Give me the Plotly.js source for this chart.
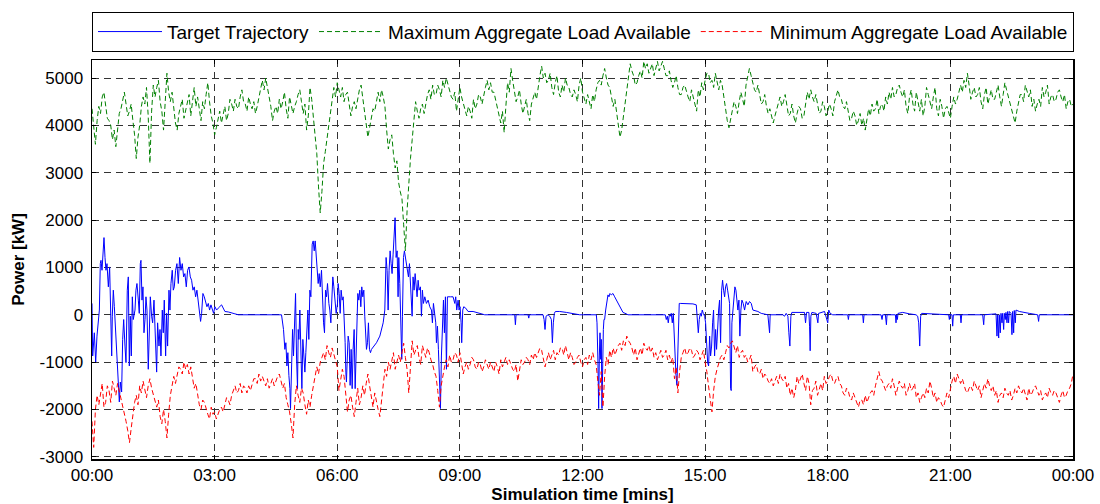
<!DOCTYPE html>
<html>
<head>
<meta charset="utf-8">
<script src="https://cdn.plot.ly/plotly-3.0.1.min.js"></script>
<style>html,body{margin:0;padding:0;background:#fff;}#chart{width:1100px;height:504px;}</style>
</head>
<body>
<div id="chart"></div>
<script>
// ---- tick labels ----
const timeTicks = [0, 180, 360, 540, 720, 900, 1080, 1260, 1440];
const timeLabels = ["00:00", "03:00", "06:00", "09:00", "12:00", "15:00", "18:00", "21:00", "00:00"];
const powerTicks = [-3000, -2000, -1000, 0, 1000, 2000, 3000, 4000, 5000];
const powerLabels = ["-3000", "-2000", "-1000", "0", "1000", "2000", "3000", "4000", "5000"];
const seriesNames = ["Target Trajectory", "Maximum Aggregate Load Available", "Minimum Aggregate Load Available"];

// ---- bounds, sampled every 2.5 simulation minutes ----
const boundStepMin = 2.5;
const maxAvailable = [
  4350,4000,3600,4100,4400,4250,4600,4700,4450,4150,4100,4000,3700,3900,3550,3950,4250,4350,4550,4700,
  4450,4200,4300,4450,4100,3800,3300,3750,4000,4400,4600,4450,4800,4200,3200,4300,4850,4600,4800,4950,
  4500,4300,3900,4600,5100,4700,4500,4700,4300,4050,3900,4250,4400,4550,4150,4300,4500,4650,4200,4450,
  4800,4400,4600,4350,4100,4500,4350,4650,4900,4500,4200,4050,3800,3950,4150,4300,4050,4200,4400,4100,
  4250,4550,4450,4300,4550,4400,4350,4600,4750,4500,4450,4300,4600,4450,4350,4500,4250,4400,4600,4800,
  4950,4750,5000,4800,4600,4400,4100,4300,4400,4250,4550,4350,4500,4700,4350,4150,4600,4450,4250,4400,
  4500,4650,4750,4500,4250,4450,3900,4200,4800,4550,4200,3900,3400,2700,2150,2600,3200,3450,3700,4000,
  4300,4550,4800,4600,4900,4750,4600,4800,4500,4650,4700,4450,4200,4400,4500,4350,4600,4750,4850,4600,
  4300,4050,3750,3950,4150,4350,4300,4550,4700,4500,4750,4600,4400,3900,3500,3700,3800,3400,3100,3250,
  2800,2600,2450,1900,1350,2200,2900,3300,3700,4100,4500,4300,4150,4350,4450,4250,4500,4650,4750,4550,
  4850,4650,4650,4850,4750,4600,4950,4800,5000,4850,4750,4600,4550,4700,4300,4550,4800,4600,4450,4300,
  4200,4400,4300,4150,4550,4350,4450,4650,4600,4450,4650,4800,4950,4750,4900,4700,4700,4550,4400,4200,
  4050,4300,3850,4400,4900,4700,5200,4950,4700,4500,4600,4750,4450,4250,4400,4550,4250,4100,4450,4600,
  4700,4550,4850,5050,5250,5000,5100,4900,4950,5100,4800,4650,4900,5050,4700,4600,4850,4700,5000,4850,
  4800,4650,4600,4750,4650,4500,4850,5000,4700,4550,4450,4650,4500,4350,4650,4500,4750,4900,4950,4850,
  5050,5200,5000,4850,4800,4600,4400,4550,4300,4000,3750,3900,4200,4450,4700,5000,5300,5150,5050,4850,
  4900,5050,5150,5000,5350,5200,5300,5100,5200,5300,5050,5200,5350,5150,5250,5350,5200,5050,5050,5150,
  4950,4800,4900,5050,4800,4650,4650,4800,4850,4700,4600,4500,4750,4600,4450,4300,4750,4600,4900,4750,
  4950,5100,5100,4900,4950,4800,5100,4900,4750,4950,4850,4600,4300,4100,3950,4150,4300,4500,4400,4250,
  4500,4700,4550,4400,4850,5000,5200,5050,4900,4750,4700,4850,4650,4450,4500,4650,4400,4250,4350,4200,
  4050,4200,4350,4500,4600,4400,4500,4650,4400,4200,4250,4450,4200,4050,4250,4400,4350,4150,4200,4450,
  4700,4550,4750,4600,4500,4650,4400,4250,4300,4500,4400,4200,4300,4450,4350,4200,4500,4650,4750,4600,
  4550,4400,4350,4500,4250,4100,4150,4300,4200,4000,4100,4250,4000,4150,3900,4100,4350,4200,4450,4300,
  4350,4550,4250,4400,4450,4300,4600,4450,4700,4550,4800,4600,4650,4800,4850,4700,4600,4750,4400,4250,
  4600,4750,4450,4300,4700,4500,4300,4550,4200,4400,4800,4650,4500,4350,4600,4800,4350,4200,4550,4400,
  4150,4350,4400,4250,4150,4400,4600,4450,4550,4700,4850,4700,4950,4800,5100,4850,4550,4700,4800,4600,
  4650,4800,4500,4350,4650,4800,4450,4600,4750,4550,4550,4700,4850,4600,4400,4650,4900,4750,4600,4450,
  4350,4200,4050,4300,4450,4650,4650,4500,4850,4700,4600,4750,4400,4550,4300,4450,4550,4400,4800,4600,
  4700,4850,4450,4600,4650,4500,4550,4700,4750,4600,4500,4650,4350,4500,4550,4400,4450
];
const minAvailable = [
  -2250,-2800,-2000,-1700,-1900,-1650,-1450,-1950,-1850,-1500,-1600,-1850,-1400,-1550,-1700,-1450,-1600,-1800,-1900,-2050,
  -2250,-2450,-2700,-2400,-2100,-1850,-1700,-1900,-1500,-1650,-1400,-1550,-1750,-1500,-1350,-1550,-1700,-1850,-1950,-1800,
  -2150,-2300,-2000,-2250,-2600,-2100,-1700,-1500,-1300,-1450,-1250,-1100,-1150,-1250,-1000,-1150,-1050,-1250,-1100,-1350,
  -1550,-1450,-1700,-1900,-2000,-1800,-1850,-2000,-2100,-2200,-1950,-2100,-2050,-2200,-2100,-2000,-1950,-2050,-1900,-1750,
  -1800,-1900,-1700,-1600,-1500,-1650,-1600,-1450,-1650,-1500,-1550,-1650,-1500,-1600,-1450,-1350,-1350,-1450,-1250,-1400,
  -1300,-1400,-1500,-1350,-1550,-1450,-1350,-1500,-1400,-1300,-1250,-1400,-1550,-1450,-1750,-1900,-2050,-2300,-2600,-1900,
  -1500,-1700,-1850,-1550,-1650,-1900,-2100,-1800,-1950,-1700,-1500,-1300,-1100,-1250,-1000,-900,-800,-950,-650,-800,
  -900,-700,-850,-1000,-1100,-1600,-1400,-1150,-1300,-1700,-2050,-1800,-1700,-1950,-2150,-1850,-1550,-1900,-1750,-1500,
  -1700,-1450,-1250,-1500,-1750,-1950,-1650,-1850,-2000,-2150,-1800,-1400,-1150,-1300,-1000,-1150,-950,-800,-1150,-1000,
  -850,-1000,-800,-600,-900,-1150,-1650,-1100,-550,-850,-750,-650,-900,-1050,-650,-800,-900,-700,-800,-950,
  -1050,-1200,-1300,-1600,-1950,-1500,-1250,-1100,-950,-1100,-850,-1000,-950,-800,-850,-1000,-800,-1000,-1250,-1100,
  -1000,-1150,-1050,-900,-950,-1100,-1150,-1000,-1050,-1200,-1100,-950,-1050,-1150,-1000,-1100,-1200,-1000,-1100,-1250,
  -950,-1100,-1000,-900,-1050,-950,-1050,-1150,-1200,-1050,-1400,-1150,-950,-1050,-1000,-900,-950,-1050,-850,-950,
  -800,-900,-800,-700,-750,-900,-1100,-950,-800,-950,-850,-750,-950,-800,-850,-700,-700,-850,-650,-800,
  -950,-800,-900,-1050,-1000,-900,-850,-1000,-1100,-950,-900,-1050,-850,-950,-800,-950,-1050,-1400,-1700,-1200,
  -1950,-1300,-900,-1050,-750,-900,-700,-850,-750,-650,-600,-750,-550,-650,-450,-550,-600,-700,-850,-700,
  -950,-800,-700,-850,-600,-700,-750,-650,-800,-700,-900,-800,-950,-850,-750,-900,-850,-750,-950,-850,
  -1000,-900,-1350,-1100,-1650,-1200,-900,-800,-700,-850,-800,-700,-750,-900,-850,-750,-800,-950,-850,-750,
  -1000,-1200,-1500,-1750,-2050,-1600,-1300,-1150,-1000,-900,-850,-950,-800,-650,-700,-600,-550,-700,-800,-650,
  -900,-800,-750,-900,-850,-1000,-950,-850,-1200,-1100,-1050,-1200,-1250,-1150,-1350,-1250,-1300,-1400,-1450,-1350,
  -1500,-1400,-1300,-1450,-1250,-1350,-1400,-1300,-1550,-1450,-1700,-1550,-1750,-1600,-1300,-1450,-1350,-1250,-1450,-1600,
  -1300,-1450,-1900,-1600,-1550,-1400,-1700,-1550,-1450,-1600,-1300,-1450,-1400,-1300,-1250,-1400,-1450,-1350,-1300,-1450,
  -1500,-1650,-1700,-1550,-1600,-1750,-1800,-1650,-1750,-1850,-1950,-1800,-1800,-1900,-1700,-1850,-1750,-1650,-1600,-1700,
  -1500,-1350,-1200,-1350,-1400,-1500,-1600,-1500,-1450,-1550,-1350,-1500,-1700,-1550,-1400,-1500,-1550,-1450,-1700,-1600,
  -1450,-1600,-1550,-1450,-1750,-1650,-1850,-1750,-1650,-1750,-1550,-1650,-1400,-1550,-1750,-1650,-1850,-1750,-1800,-1900,
  -1950,-1800,-1650,-1750,-1550,-1400,-1300,-1450,-1250,-1350,-1450,-1350,-1500,-1600,-1650,-1550,-1500,-1600,-1400,-1500,
  -1600,-1500,-1750,-1600,-1450,-1550,-1350,-1500,-1600,-1500,-1700,-1600,-1850,-1700,-1650,-1750,-1550,-1650,-1700,-1600,
  -1800,-1700,-1550,-1650,-1500,-1600,-1650,-1550,-1700,-1800,-1550,-1700,-1650,-1550,-1500,-1600,-1700,-1600,-1800,-1700,
  -1650,-1750,-1550,-1650,-1700,-1600,-1650,-1750,-1850,-1700,-1600,-1750,-1700,-1600,-1550,-1450,-1250
];

// ---- target trajectory: time [min] and power [kW] ----
const targetTime = [
  0,1.0,3.4,5.4,7.3,9.3,10.8,12.2,13.2,14.7,16.1,17.6,19.1,20.5,22.0,24.0,25.9,27.9,28.9,29.8,
  31.3,32.8,34.7,36.7,38.6,40.1,41.6,43.5,45.0,46.5,48.4,49.9,51.8,53.3,54.8,56.2,57.7,59.2,60.6,63.1,
  64.5,66.0,68.0,69.4,70.9,71.9,73.4,74.8,76.3,77.8,79.2,80.7,82.6,84.1,85.6,87.5,89.0,91.0,92.4,94.9,
  96.3,98.3,99.8,101.2,103.2,104.6,106.1,108.1,109.5,111.0,113.0,114.4,115.9,117.8,119.3,120.8,122.7,124.7,126.7,128.6,
  130.6,132.5,134.5,136.4,138.4,140.3,142.3,144.3,146.2,148.2,150.1,152.1,154.0,156.0,157.9,159.4,160.9,162.8,164.8,166.7,
  168.7,170.7,172.6,174.6,176.5,178.5,180.4,182.9,185.3,190.2,195.1,200.0,209.8,214.7,278.2,279.6,281.1,283.1,284.6,286.1,
  287.5,289.0,290.5,291.4,292.9,294.4,295.8,297.3,298.8,300.2,301.7,302.7,303.7,305.1,306.6,308.1,309.5,311.0,312.5,313.9,
  315.4,316.9,318.3,319.8,321.3,323.2,324.7,326.2,327.6,329.1,330.6,332.0,333.5,335.0,336.9,338.4,339.9,341.3,342.8,344.3,
  345.7,347.7,349.1,350.6,352.1,353.5,355.0,356.5,358.4,360.4,
  361.3,362.8,364.3,365.7,367.2,368.7,370.1,371.6,372.6,373.5,374.5,376.0,377.5,378.9,380.4,381.9,383.3,384.8,386.3,387.2,
  388.7,390.2,391.6,393.1,394.6,396.0,397.5,399.0,400.4,401.9,402.9,404.4,405.8,407.3,408.8,410.2,412.7,417.6,422.5,427.4,
  429.8,430.8,431.7,433.2,434.7,436.1,437.6,439.1,440.5,442.0,443.5,444.9,446.4,447.9,449.3,450.3,451.8,453.3,454.7,455.7,
  457.2,458.6,460.1,461.6,463.1,464.5,466.0,467.4,468.9,469.9,471.3,472.8,474.3,475.7,477.2,478.7,480.1,482.1,483.6,485.0,
  486.5,488.5,490.9,493.4,495.8,498.3,499.7,501.2,503.1,504.6,505.6,507.1,508.5,510.0,511.5,512.9,514.4,515.9,517.3,518.8,
  520.3,521.7,526.1,530.0,532.5,533.9,535.4,537.4,538.8,540.3,541.8,542.7,544.2,545.7,548.6,552.0,559.4,569.1,576.5,620.5,
  621.5,622.5,640.1,641.1,642.0,662.1,663.6,665.0,666.5,669.4,671.9,674.3,675.8,677.2,678.7,680.2,686.5,696.3,706.1,715.9,
  740.3,741.3,742.7,743.7,744.7,745.7,746.7,747.6,748.6,749.6,750.6,751.5,752.5,754.0,755.5,756.4,757.4,758.9,760.3,762.3,
  764.7,767.2,769.6,772.1,774.5,777.0,779.4,784.3,786.7,841.5,843.0,844.5,845.9,847.4,848.9,850.3,851.8,853.3,854.2,855.7,
  857.2,858.6,860.1,861.1,862.0,863.5,874.8,882.1,887.0,888.5,890.0,891.4,892.9,894.4,895.8,897.3,899.3,900.7,902.2,903.7,
  905.1,906.6,908.0,909.5,911.0,912.4,913.9,915.4,916.8,918.3,919.8,921.2,922.7,924.2,925.6,927.1,928.6,930.0,931.5,933.0,
  934.4,935.9,937.4,938.3,939.3,940.8,942.2,943.7,945.2,946.6,948.1,949.6,951.0,952.5,954.0,955.9,957.9,960.3,962.8,965.2,
  967.7,970.1,972.6,977.5,982.3,987.2,992.1,994.6,995.5,1014.1,1016.6,1019.0,1021.5,1022.9,1024.4,1025.9,1027.3,1045.9,1047.4,1048.9,
  1052.3,1053.3,1054.2,1055.2,1056.7,1063.0,1065.5,1066.5,1075.3,
  1080,1081.5,1083.4,1087.3,1109.3,1110.3,1111.3,1131.3,1132.3,1133.3,1158.2,1159.7,1160.7,1164.6,1166.1,1167.0,1179.3,1180.2,1181.2,1182.2,
  1183.2,1190.0,1199.8,1209.6,1212.0,1213.5,1215.0,1216.4,1217.9,1229.1,1257.5,1258.5,1259.5,1262.4,1263.4,1264.4,1274.6,1275.6,1276.6,1307.4,
  1308.9,1309.8,1327.0,1328.4,1329.4,1330.9,1331.8,1333.3,1334.3,1335.8,1336.7,1338.2,1339.2,1340.6,1341.6,1343.1,1344.1,1345.5,1346.5,1349.0,
  1350.4,1351.4,1352.9,1353.8,1355.3,1356.3,1361.2,1375.8,1388.1,1389.5,1390.5,1440
];
const targetPower = [
  240,-870,-380,-1000,-450,-170,100,1080,1150,940,1210,1630,1210,940,1080,590,1010,-590,-870,-30,
  520,170,-310,-870,-1560,-1840,-1420,-1630,-520,-100,-660,-1010,520,800,-1080,-30,-870,380,-100,100,
  520,660,310,30,1080,1150,310,590,-380,-100,380,100,-1150,-240,380,-30,-170,310,-240,-1210,
  -170,-660,-310,-870,100,-380,310,-870,30,-660,520,100,660,940,520,590,940,1080,660,1210,
  940,1080,800,870,590,940,1010,800,730,520,590,380,520,310,100,-140,30,450,380,240,
  170,240,100,210,140,30,170,100,140,210,70,60,20,0,0,-170,-310,-730,-590,-1080,
  -800,-1280,-1560,-1980,-870,-310,-870,100,450,-870,-1560,-310,-520,100,-1210,-1560,-520,-870,-1210,-800,
  -310,100,-520,520,380,1490,1560,1350,1560,1210,1080,660,870,590,940,170,-170,-380,520,380,
  660,240,100,-170,520,800,590,240,30,240,
  660,450,30,520,310,380,-30,-590,-1210,-1420,-1010,-450,-590,-1490,-730,-1560,-730,-310,-1560,-940,
  100,450,310,520,170,590,380,520,-30,-380,-730,-590,-170,-730,-800,-730,-690,-590,-450,-170,
  100,590,1210,940,100,940,1350,1080,870,1280,1840,2050,1210,1350,380,1210,660,-590,-940,-30,
  1210,1350,1210,1080,940,800,1080,660,520,-30,800,520,870,590,380,730,520,590,-30,520,
  240,380,240,310,170,100,-170,240,30,-170,-590,-240,-730,-1560,-1980,-870,-30,310,-380,380,
  -1150,380,380,380,240,380,100,310,100,170,-170,-590,100,170,140,70,70,30,0,0,
  -210,0,0,-70,0,0,-100,-310,-30,0,-30,-100,-590,-170,30,70,70,50,20,0,
  0,-170,-1010,-1980,-870,-380,-940,-520,-1980,-660,-310,-100,-100,100,240,380,420,380,450,420,
  450,380,310,240,170,100,50,20,0,0,-100,-30,-170,0,-30,30,-170,30,-380,-940,
  -1280,-1490,-870,-100,240,240,240,230,210,-170,-380,-100,30,-30,100,30,-30,-170,-660,-1010,
  -1080,-450,-870,-660,-170,100,-870,-310,-730,-170,100,310,-590,520,730,520,380,590,660,520,
  380,240,-1560,-1600,-170,170,380,590,520,240,100,310,-450,100,310,240,100,280,210,280,
  240,100,90,70,30,10,0,-380,0,0,-30,30,-30,-380,-660,-30,50,50,-170,50,
  50,-240,-760,-30,50,30,-170,30,70,
  -170,100,30,0,0,-100,0,0,-170,0,0,-100,0,0,-210,0,0,-170,0,-100,
  30,50,20,0,-30,-170,-660,-30,30,20,0,-100,0,0,-240,0,0,-170,0,0,
  -210,0,20,-450,0,-490,0,-380,30,-170,30,-310,30,-100,50,-170,70,-170,70,30,
  -420,70,-380,90,-170,100,70,30,0,-140,0,0
];

const boundTime = maxAvailable.map((_, i) => i * boundStepMin);

const traces = [
  {x: targetTime, y: targetPower, name: seriesNames[0], type: 'scatter', mode: 'lines',
   line: {color: '#0000ff', width: 1}},
  {x: boundTime, y: maxAvailable, name: seriesNames[1], type: 'scatter', mode: 'lines',
   line: {color: '#008000', width: 1, dash: '5px,3px'}},
  {x: boundTime, y: minAvailable, name: seriesNames[2], type: 'scatter', mode: 'lines',
   line: {color: '#ff0000', width: 1, dash: '5px,3px'}}
];

const fontFam = '"Liberation Sans", Arial, Helvetica, sans-serif';
const layout = {
  width: 1100, height: 504,
  margin: {l: 92, r: 27, t: 55, b: 45, pad: 0},
  paper_bgcolor: '#fff', plot_bgcolor: '#fff',
  font: {family: fontFam, size: 16, color: '#000'},
  showlegend: true,
  legend: {orientation: 'h', x: 0, xanchor: 'left', y: 1.121, yanchor: 'top',
           bordercolor: '#000', borderwidth: 1, bgcolor: '#fff',
           font: {family: fontFam, size: 19, color: '#000'}, itemwidth: 64},
  xaxis: {
    range: [0, 1440], tickmode: 'array', tickvals: timeTicks, ticktext: timeLabels,
    showgrid: true, gridcolor: '#333', gridwidth: 1, griddash: '7px,5px',
    zeroline: false, showline: true, linecolor: '#000', linewidth: 1.5, mirror: 'ticks',
    ticks: 'inside', ticklen: 4, tickcolor: '#000',
    tickfont: {family: fontFam, size: 17, color: '#000'},
    title: {text: '<b>Simulation time [mins]</b>', font: {family: fontFam, size: 17, color: '#000'}, standoff: 2}
  },
  yaxis: {
    range: [-3045, 5380], tickmode: 'array', tickvals: powerTicks, ticktext: powerLabels,
    showgrid: true, gridcolor: '#333', gridwidth: 1, griddash: '7px,5px',
    zeroline: false, showline: true, linecolor: '#000', linewidth: 1.5, mirror: 'ticks',
    ticks: 'inside', ticklen: 4, tickcolor: '#000', ticklabelstandoff: 4,
    tickfont: {family: fontFam, size: 17, color: '#000'},
    title: {text: '<b>Power [kW]</b>', font: {family: fontFam, size: 17, color: '#000'}, standoff: 10}
  }
};

Plotly.newPlot('chart', traces, layout, {displayModeBar: false, staticPlot: true});
</script>
</body>
</html>
